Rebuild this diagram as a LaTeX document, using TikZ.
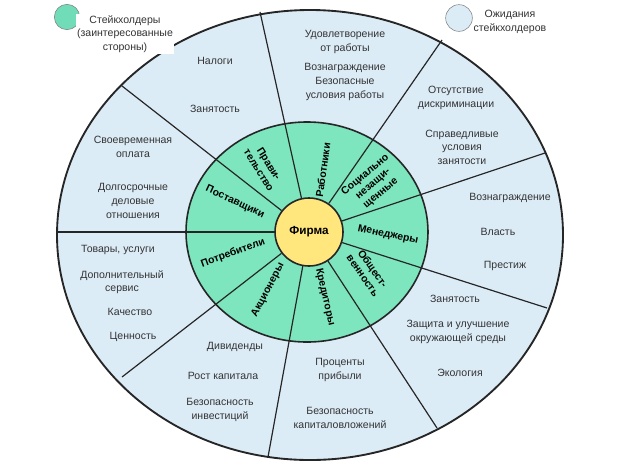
\documentclass[tikz,border=0pt]{standalone}
\usepackage{fontspec}
\setmainfont{Liberation Sans}
\definecolor{outerc}{RGB}{220,236,247}
\definecolor{innerc}{RGB}{125,230,190}
\definecolor{firmc}{RGB}{255,230,125}
\begin{document}
\begin{tikzpicture}[x=0.75pt,y=-0.75pt,
  txt/.style={font=\fontsize{7.9}{10.2}\selectfont, text=black!80, align=center, inner sep=0pt},
  grn/.style={font=\bfseries\fontsize{7.8}{9}\selectfont, align=center, inner sep=0pt},
  divline/.style={draw=black!85, line width=0.9pt}]
\useasboundingbox (0,0) rectangle (620,465);
\fill[white] (0,0) rectangle (620,465);
\fill[outerc] (310,235) ellipse [x radius=253, y radius=225];
\fill[innerc] (307,232) ellipse [x radius=121, y radius=110];
\node[circle, draw=black!85, line width=1.2pt, fill=firmc, minimum size=51pt, inner sep=0pt, font=\bfseries\fontsize{8.8}{10}\selectfont] (firm) at (309,232) {Фирма};
\coordinate (o1) at (260,12);
\coordinate (o2) at (442,40);
\coordinate (o3) at (545,153);
\coordinate (o4) at (547,308);
\coordinate (o5) at (437,428);
\coordinate (o6) at (268,457);
\coordinate (o7) at (122,377);
\coordinate (o8) at (57,232);
\coordinate (o9) at (122,86);
\foreach \i in {1,...,9} \draw[divline] (firm) -- (o\i);
\draw[black!85, line width=1.2pt] (307,232) ellipse [x radius=121, y radius=110];
\draw[black!85, line width=1.4pt] (310,235) ellipse [x radius=253, y radius=225];
% legend
\node[circle, draw=black!50, fill=innerc!90!teal, minimum size=19pt, inner sep=0pt] (leg1) at (67,17) {};
\node[txt, fill=white, inner sep=1pt] (leg1t) at (125,34) {Стейкхолдеры\\(заинтересованные\\стороны)};
\node[circle, draw=black!50, fill=outerc, minimum size=20pt, inner sep=0pt] (leg2) at (459,18) {};
\node[txt] (leg2t) at (510,22) {Ожидания\\стейкхолдеров};
% outer texts
\node[txt] (t1) at (215,61) {Налоги};
\node[txt] (t2) at (215,109) {Занятость};
\node[txt] (t3) at (345,42) {Удовлетворение\\от работы};
\node[txt] (t4) at (345,68) {Вознаграждение};
\node[txt] (t5) at (345,89) {Безопасные\\условия работы};
\node[txt] (t6) at (456,98) {Отсутствие\\дискриминации};
\node[txt] (t7) at (462,147) {Справедливые\\условия\\занятости};
\node[txt] (t8) at (510,198) {Вознаграждение};
\node[txt] (t9) at (498,232) {Власть};
\node[txt] (t10) at (505,266) {Престиж};
\node[txt] (t11) at (455,299) {Занятость};
\node[txt] (t12) at (458,332) {Защита и улучшение\\окружающей среды};
\node[txt] (t13) at (460,373) {Экология};
\node[txt] (t14) at (340,370) {Проценты\\прибыли};
\node[txt] (t15) at (340,418) {Безопасность\\капиталовложений};
\node[txt] (t16) at (235,347) {Дивиденды};
\node[txt] (t17) at (223,376) {Рост капитала};
\node[txt] (t18) at (220,410) {Безопасность\\инвестиций};
\node[txt] (t19) at (118,250) {Товары, услуги};
\node[txt] (t20) at (122,282) {Дополнительный\\сервис};
\node[txt] (t21) at (130,312) {Качество};
\node[txt] (t22) at (133,337) {Ценность};
\node[txt] (t23) at (133,147) {Своевременная\\оплата};
\node[txt] (t24) at (133,201) {Долгосрочные\\деловые\\отношения};
% green labels
\node[grn, rotate=-58] (g1) at (264,167) {Прави-\\тельство};
\node[grn, rotate=82] (g2) at (323,170) {Работники};
\node[grn, rotate=40] (g3) at (373,184) {Социально\\незащи-\\щенные};
\node[grn, rotate=-12] (g4) at (388,235) {Менеджеры};
\node[grn, rotate=-55] (g5) at (368,272) {Общест-\\венность};
\node[grn, rotate=-77] (g6) at (325,297) {Кредиторы};
\node[grn, rotate=62] (g7) at (268,290) {Акционеры};
\node[grn, rotate=20] (g8) at (233,253) {Потребители};
\node[grn, rotate=-25] (g9) at (235,202) {Поставщики};
\end{tikzpicture}
\end{document}
